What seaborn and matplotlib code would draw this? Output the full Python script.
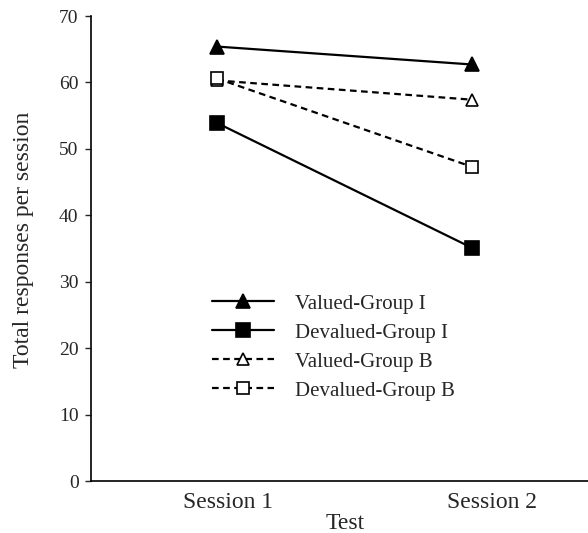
import pandas as pd
import matplotlib
matplotlib.use("Agg")
import matplotlib.pyplot as plt
import matplotlib.transforms as mtransforms
import seaborn as sns

sessions = ["Session 1", "Session 2"]
valued_group_i = [65.4, 62.7]
devalued_group_i = [53.9, 35.1]
valued_group_b = [60.3, 57.4]
devalued_group_b = [60.6, 47.3]

series = [
    ("Valued-Group I", valued_group_i, "^", "black", "-"),
    ("Devalued-Group I", devalued_group_i, "s", "black", "-"),
    ("Valued-Group B", valued_group_b, "^", "white", (0, (3, 2))),
    ("Devalued-Group B", devalued_group_b, "s", "white", (0, (3, 2))),
]

sns.set_style("white")
plt.rcParams["font.family"] = ["Liberation Serif", "DejaVu Serif"]

fig = plt.figure(figsize=(5.88, 5.33), dpi=100)
ax = fig.add_axes([91 / 588, 1 - 481 / 533, 1 - 91 / 588, (481 - 16) / 533])

for label, vals, marker, face, ls in series:
    df = pd.DataFrame({"x": range(len(sessions)), "y": vals})
    sns.lineplot(data=df, x="x", y="y", ax=ax, color="black", marker=marker,
                 markersize=10 if face == "black" else 9, markerfacecolor=face,
                 markeredgecolor="black", markeredgewidth=1.2,
                 linestyle=ls, linewidth=1.6, label=label)

ax.set_xlim(-0.494, 1.455)
ax.set_ylim(0, 70)
ax.set_yticks(range(0, 71, 10))
ax.set_xticks(range(len(sessions)))
ax.set_xticklabels(sessions, fontsize=17)
ax.tick_params(axis="y", labelsize=14, length=4, width=1, direction="out", left=True, pad=5)
ax.tick_params(axis="x", length=0, pad=8)

# the session labels in the original sit a little right of the points
for lab, dx in zip(ax.get_xticklabels(), [11, 20]):
    lab.set_transform(lab.get_transform() + mtransforms.ScaledTranslation(dx / 100, 0, fig.dpi_scale_trans))

ax.set_xlabel("Test", fontsize=17)
ax.xaxis.set_label_coords((345 - 91) / 497, -0.068)
ax.set_ylabel("Total responses per session", fontsize=17)
ax.yaxis.set_label_coords(-0.115, 0.518)

for side in ["top", "right"]:
    ax.spines[side].set_visible(False)
for side in ["left", "bottom"]:
    ax.spines[side].set_color("black")
    ax.spines[side].set_linewidth(1.2)

leg = ax.legend(loc="upper left", bbox_to_anchor=(0.243, 0.402), frameon=False,
                fontsize=15, handlelength=3.0, handletextpad=1.0, labelspacing=0.45,
                borderpad=0, borderaxespad=0)

fig.savefig("out.png", dpi=100)
